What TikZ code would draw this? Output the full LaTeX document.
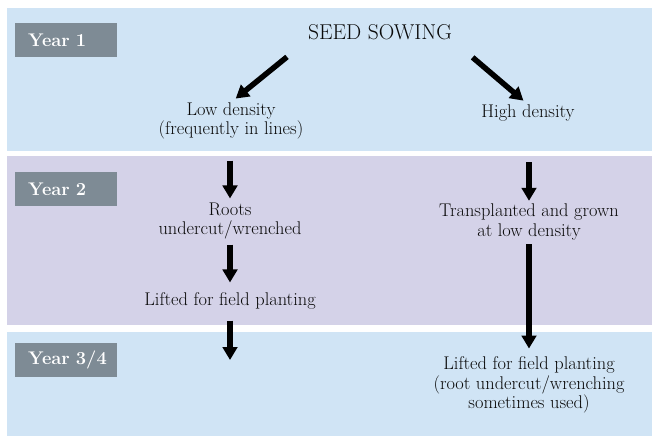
\documentclass[tikz,border=0pt]{standalone}
\usepackage{xcolor}
\usepackage{tikz}
\usetikzlibrary{arrows.meta, positioning, calc}
\definecolor{yearBlue}{RGB}{208,228,245}
\definecolor{yearPurple}{RGB}{212,210,232}
\definecolor{tagFill}{RGB}{126,139,149}
\definecolor{ink}{RGB}{10,10,10}
\tikzset{
  band/.style={draw=none},
  yearTag/.style={
    fill=tagFill,
    text=white,
    font=\fontsize{18.3}{20}\selectfont\bfseries,
    anchor=north west,
    align=left,
    text width=76pt,
    inner xsep=13pt,
    inner ysep=0pt,
    minimum height=34pt
  },
  stage/.style={
    align=center,
    inner sep=0pt,
    text=ink,
    font=\fontsize{18.4}{19.5}\selectfont
  },
  flow/.style={-{Triangle[length=13pt,width=14.5pt]}, line width=5.5pt, draw=black}
}
\begin{document}
\begin{tikzpicture}[x=1pt, y=-1pt]
  \useasboundingbox (0,0) rectangle (652,436);
  % year bands
  \fill[yearBlue] (7,8) rectangle (652,150.5);
  \fill[yearPurple] (7,156) rectangle (652,325);
  \fill[yearBlue] (7,332) rectangle (652,436);

  \node[yearTag] (year1) at (15,23) {Year 1};
  \node[yearTag] (year2) at (15,172) {Year 2};
  \node[yearTag] (year3) at (15,343) {\hbox{Year 3/4}};

  \node[stage, font=\fontsize{21.5}{22}\selectfont] (sow) at (380,32) {SEED SOWING};
  \node[stage] (low) at (231,121) {Low density\\(frequently in lines)};
  \node[stage] (high) at (528,113) {High density};

  \node[stage] (roots) at (230,221) {Roots\\undercut/wrenched};
  \node[stage] (lift1) at (230,301) {Lifted for field planting};
  \node[stage] (trans) at (529,222) {Transplanted and grown\\at low density};
  \node[stage] (lift2) at (529,385) {Lifted for field planting\\(root undercut/wrenching\\sometimes used)};
  \coordinate (end1) at (230,360);

  \draw[flow, shorten <=27pt, shorten >=6pt] (sow.south west) -- (low.north);
  \draw[flow, shorten <=27pt, shorten >=6pt] (sow.south east) -- (high.north);
  \draw[flow, shorten <=21pt, shorten >=4pt] (low.south -| roots.north) -- (roots.north);
  \draw[flow, shorten <=5pt, shorten >=10pt] (roots.south) -- (lift1.north);
  \draw[flow, shorten <=11pt] (lift1.south) -- (end1);
  \draw[flow, shorten <=41pt, shorten >=3pt] (high.south -| trans.north) -- (trans.north);
  \draw[flow, shorten <=4pt, shorten >=8pt] (trans.south) -- (lift2.north);
\end{tikzpicture}
\end{document}
